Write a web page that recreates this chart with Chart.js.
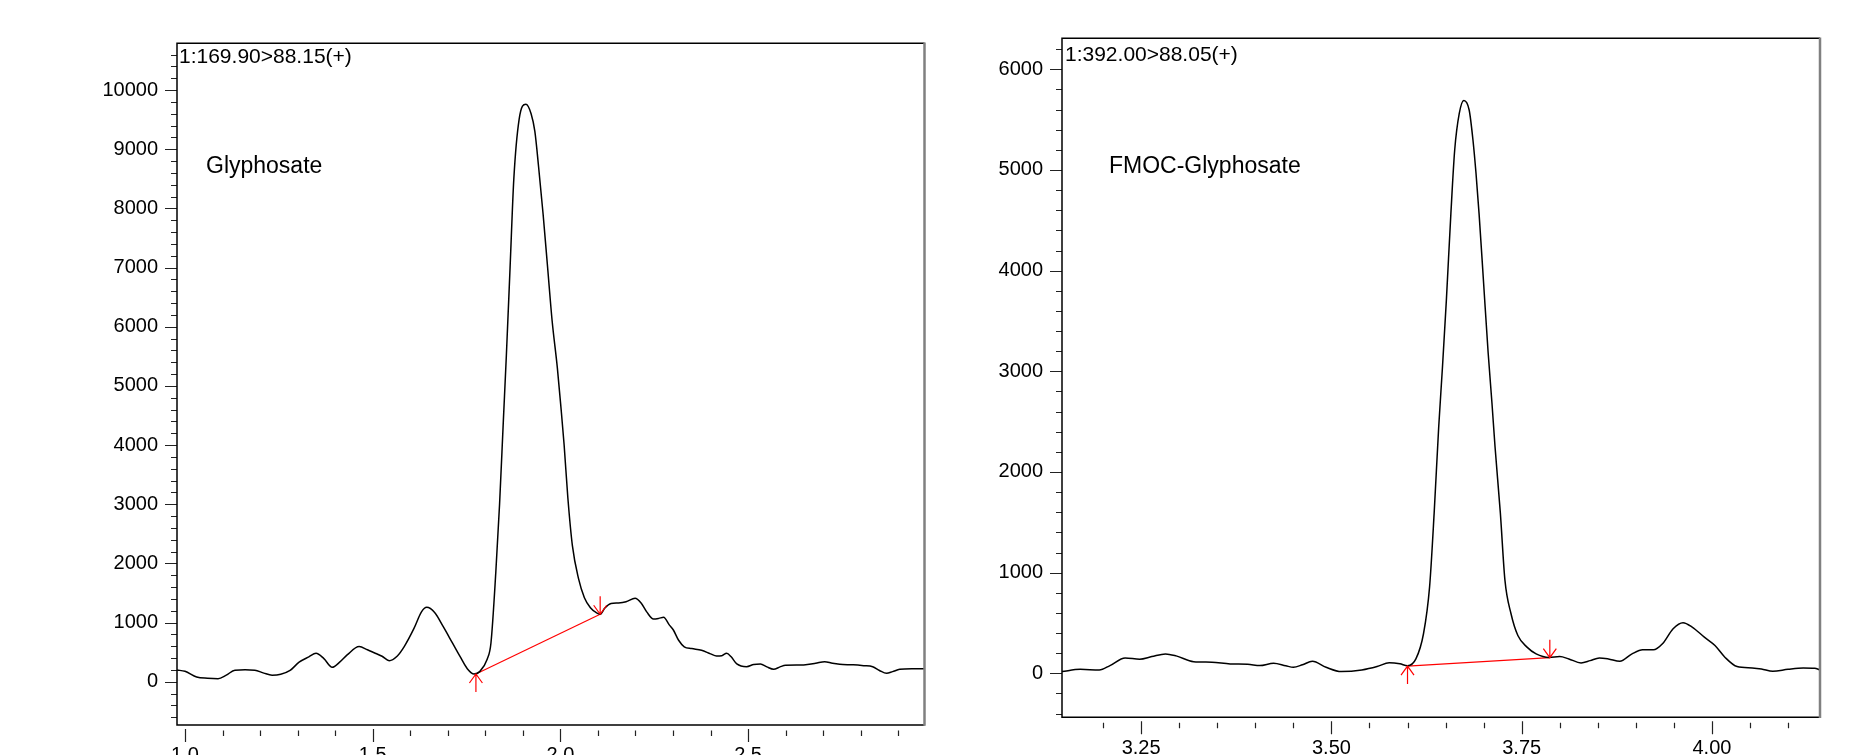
<!DOCTYPE html>
<html><head><meta charset="utf-8">
<script src="https://cdn.jsdelivr.net/npm/chart.js@4"></script>
<style>
html,body{margin:0;padding:0;background:#fff;overflow:hidden;width:1876px;height:755px;}
canvas{position:absolute;top:0;}
#c1{left:0}
#c2{left:940px}
</style></head><body>
<canvas id="c1" width="940" height="800"></canvas>
<canvas id="c2" width="936" height="800"></canvas>
<script>
// ---------- Glyphosate channel (1:169.90>88.15) ----------
const glyTime = [0.979,1.000,1.031,1.060,1.088,1.110,1.133,1.160,1.186,1.210,1.232,1.255,1.280,1.304,1.330,1.349,1.370,1.392,1.412,1.432,1.464,1.486,1.504,1.525,1.544,1.565,1.584,1.610,1.630,1.644,1.665,1.688,1.712,1.733,1.752,1.770,1.785,1.805,1.815,1.828,1.838,1.848,1.856,1.866,1.876,1.890,1.908,1.922,1.932,1.942,1.954,1.966,1.978,1.992,2.002,2.010,2.020,2.032,2.048,2.064,2.080,2.095,2.106,2.118,2.135,2.155,2.175,2.199,2.215,2.230,2.248,2.262,2.275,2.290,2.301,2.315,2.330,2.350,2.376,2.400,2.416,2.430,2.443,2.455,2.470,2.496,2.515,2.533,2.550,2.568,2.585,2.600,2.648,2.680,2.704,2.725,2.744,2.780,2.808,2.832,2.850,2.869,2.885,2.904,2.936,2.970];
const glyIntensity = [197,175,80,58,50,110,195,200,195,145,110,125,190,330,420,480,390,243,330,452,593,540,490,430,356,430,593,900,1180,1257,1170,930,660,423,220,130,170,380,650,1850,3000,4400,5500,7000,8500,9500,9760,9600,9300,8700,7900,7000,6100,5300,4600,4000,3100,2300,1750,1420,1250,1170,1140,1240,1320,1330,1350,1410,1330,1180,1060,1070,1088,960,874,700,590,560,530,470,435,440,480,420,300,254,290,299,250,209,250,277,282,310,339,310,294,285,271,254,190,141,170,209,220,220];
const glyBaseTime = [1.775, 2.106];
const glyBaseIntensity = [130, 1140];
const glyYTicks = [0,1000,2000,3000,4000,5000,6000,7000,8000,9000,10000];
const glyXTicks = [1.0,1.5,2.0,2.5];
const glyXTickLabels = ['1.0','1.5','2.0','2.5'];
const glyChannel = '1:169.90>88.15(+)';
const glyName = 'Glyphosate';

// ---------- FMOC-Glyphosate channel (1:392.00>88.05) ----------
const fmocTime = [3.146,3.170,3.195,3.209,3.229,3.248,3.264,3.282,3.296,3.319,3.343,3.367,3.390,3.406,3.424,3.440,3.450,3.462,3.475,3.493,3.513,3.540,3.560,3.576,3.590,3.600,3.611,3.621,3.629,3.635,3.641,3.646,3.651,3.657,3.662,3.668,3.674,3.681,3.686,3.690,3.694,3.700,3.706,3.711,3.715,3.722,3.728,3.736,3.745,3.757,3.769,3.786,3.800,3.812,3.828,3.840,3.852,3.864,3.879,3.895,3.909,3.923,3.935,3.949,3.962,3.974,3.990,4.004,4.017,4.033,4.053,4.065,4.080,4.100,4.120,4.135,4.142];
const fmocIntensity = [17,40,33,77,153,140,166,193,173,116,110,93,90,77,100,75,60,85,120,60,17,33,67,106,95,75,143,393,859,1591,2450,3050,3700,4569,5198,5562,5690,5596,5298,4967,4569,3874,3180,2680,2250,1591,925,592,376,260,193,158,166,143,103,126,153,143,120,193,233,233,293,443,503,459,359,276,160,67,53,43,20,40,53,50,33];
const fmocBaseTime = [3.600, 3.787];
const fmocBaseIntensity = [72, 155];
const fmocYTicks = [0,1000,2000,3000,4000,5000,6000];
const fmocXTicks = [3.25,3.50,3.75,4.00];
const fmocXTickLabels = ['3.25','3.50','3.75','4.00'];
const fmocChannel = '1:392.00>88.05(+)';
const fmocName = 'FMOC-Glyphosate';

const FONT = "'Liberation Sans', Arial, Helvetica, sans-serif";
Chart.defaults.font.family = FONT;
Chart.defaults.color = '#000';

const deco = {
  id: 'deco',
  afterDraw(chart, args, o) {
    const {ctx, chartArea: a, scales: {x, y}} = chart;
    ctx.save();
    // y ticks
    ctx.strokeStyle = '#222'; ctx.lineWidth = 1.2;
    ctx.beginPath();
    const yi0 = Math.ceil(y.min / o.yMinor), yi1 = Math.floor(y.max / o.yMinor);
    for (let i = yi0; i <= yi1; i++) {
      const v = i * o.yMinor;
      const py = Math.round(y.getPixelForValue(v)) + 0.5;
      const major = (Math.round(v) % o.yMajor) === 0;
      const len = major ? 12 : 6;
      ctx.moveTo(a.left - len, py); ctx.lineTo(a.left, py);
    }
    // x ticks
    const xi0 = Math.ceil(x.min / o.xMinor - 1e-9), xi1 = Math.floor(x.max / o.xMinor + 1e-9);
    for (let i = xi0; i <= xi1; i++) {
      const v = i * o.xMinor;
      const px = Math.round(x.getPixelForValue(v)) + 0.5;
      if (px < a.left + 6 || px > a.right - 4) continue;
      const major = i % o.xRatio === 0;
      if (major) { ctx.moveTo(px, a.bottom + 4); ctx.lineTo(px, a.bottom + 17); }
      else { ctx.moveTo(px, a.bottom + 5.5); ctx.lineTo(px, a.bottom + 11); }
    }
    ctx.stroke();

    // integration baseline arrows
    const ds = chart.data.datasets[1].data;
    const p0 = {x: x.getPixelForValue(ds[0].x), y: y.getPixelForValue(ds[0].y)};
    const p1 = {x: x.getPixelForValue(ds[1].x), y: y.getPixelForValue(ds[1].y)};
    ctx.strokeStyle = '#ff0000'; ctx.lineWidth = 1.2;
    ctx.beginPath();
    [[p0, 1], [p1, -1]].forEach(([p, d]) => {
      ctx.moveTo(p.x, p.y + d * 18); ctx.lineTo(p.x, p.y);
      ctx.moveTo(p.x - 6.5, p.y + d * 9); ctx.lineTo(p.x, p.y); ctx.lineTo(p.x + 6.5, p.y + d * 9);
    });
    ctx.stroke();

    // frame
    ctx.strokeStyle = '#000'; ctx.lineWidth = 1.5;
    ctx.beginPath();
    ctx.moveTo(a.right, a.top); ctx.lineTo(a.left, a.top); ctx.lineTo(a.left, a.bottom); ctx.lineTo(a.right, a.bottom);
    ctx.stroke();
    ctx.strokeStyle = '#808080'; ctx.lineWidth = 2.5;
    ctx.beginPath(); ctx.moveTo(a.right, a.top - 0.7); ctx.lineTo(a.right, a.bottom + 0.7); ctx.stroke();

    // annotations
    ctx.fillStyle = '#000'; ctx.textAlign = 'left'; ctx.textBaseline = 'alphabetic';
    ctx.font = '21px ' + FONT;
    ctx.fillText(o.channel, a.left + o.channelDx, o.channelY);
    ctx.font = '23px ' + FONT;
    ctx.fillText(o.name, a.left + o.nameDx, o.nameY);
    ctx.restore();
  }
};

function makeChart(id, c) {
  return new Chart(document.getElementById(id), {
    type: 'line',
    data: {
      datasets: [
        { data: c.time.map((t, i) => ({x: t, y: c.intensity[i]})), borderColor: '#000', borderWidth: 1.5,
          pointRadius: 0, cubicInterpolationMode: 'monotone', fill: false },
        { data: c.baseTime.map((t, i) => ({x: t, y: c.baseIntensity[i]})), borderColor: '#ff0000', borderWidth: 1.2,
          pointRadius: 0, tension: 0, fill: false }
      ]
    },
    options: {
      responsive: false, animation: false, devicePixelRatio: 1,
      layout: { padding: { left: 0, top: c.padTop, right: c.padRight, bottom: 0 } },
      plugins: { legend: {display: false}, tooltip: {enabled: false}, title: {display: false},
        deco: { yMinor: 200, yMajor: 1000, xMinor: c.xMinor, xRatio: 5,
          channel: c.channel, channelDx: c.channelDx, channelY: c.channelY,
          name: c.name, nameDx: c.nameDx, nameY: c.nameY } },
      scales: {
        x: { type: 'linear', min: c.xMin, max: c.xMax,
          afterFit(s) { s.height = 800 - c.boxBottom; },
          afterBuildTicks(s) { s.ticks = c.xTicks.map(v => ({value: v})); },
          grid: {display: false, drawTicks: false}, border: {display: false},
          ticks: { autoSkip: false, maxRotation: 0, minRotation: 0, padding: c.xPad, font: {size: 20}, color: '#000',
            callback: (v) => c.xTickLabels[c.xTicks.findIndex(t => Math.abs(t - v) < 1e-9)] } },
        y: { type: 'linear', min: c.yMin, max: c.yMax,
          afterFit(s) { s.width = c.axisW; },
          afterBuildTicks(s) { s.ticks = c.yTicks.map(v => ({value: v})); },
          grid: {display: false, drawTicks: false}, border: {display: false},
          ticks: { padding: c.yPad, font: {size: 20}, color: '#000', callback: (v) => String(v) } }
      }
    },
    plugins: [deco]
  });
}

makeChart('c1', {
  time: glyTime, intensity: glyIntensity, baseTime: glyBaseTime, baseIntensity: glyBaseIntensity,
  xTicks: glyXTicks, xTickLabels: glyXTickLabels, yTicks: glyYTicks,
  xMin: 0.9787, xMax: 2.970, yMin: -732, yMax: 10790, xMinor: 0.1,
  padTop: 43.3, padRight: 940 - 924.5, axisW: 177, boxBottom: 725, xPad: 18, yPad: 19,
  channel: glyChannel, channelDx: 2, channelY: 63, name: glyName, nameDx: 29, nameY: 173
});
makeChart('c2', {
  time: fmocTime, intensity: fmocIntensity, baseTime: fmocBaseTime, baseIntensity: fmocBaseIntensity,
  xTicks: fmocXTicks, xTickLabels: fmocXTickLabels, yTicks: fmocYTicks,
  xMin: 3.146, xMax: 4.142, yMin: -437, yMax: 6308, xMinor: 0.05,
  padTop: 38.3, padRight: 936 - 880, axisW: 122, boxBottom: 717.3, xPad: 19, yPad: 19,
  channel: fmocChannel, channelDx: 3, channelY: 61, name: fmocName, nameDx: 47, nameY: 173
});
</script>
</body></html>
